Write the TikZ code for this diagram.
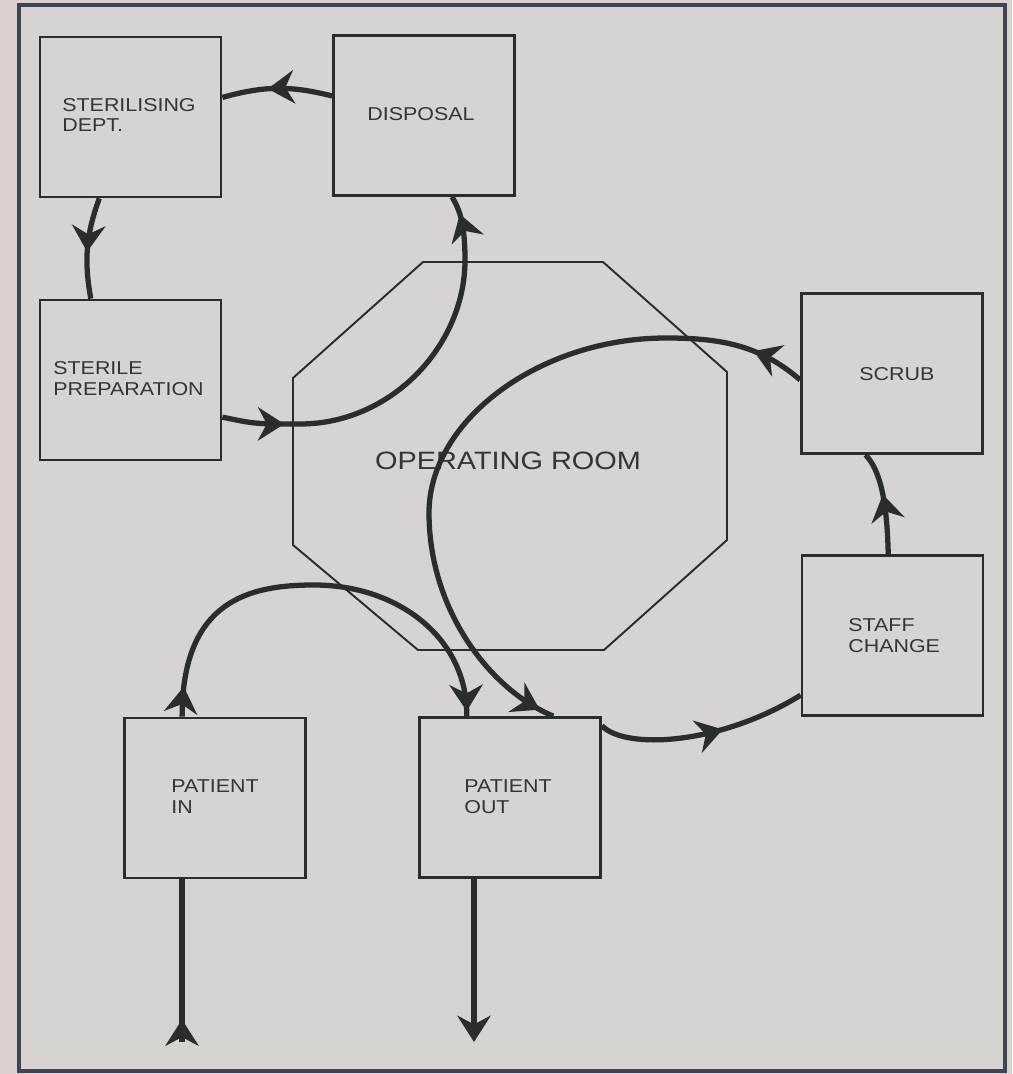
\documentclass[tikz,border=0pt]{standalone}
\usepackage{fontspec}
\newfontfamily\lblfont{Liberation Sans}[FakeStretch=1.15]
\usetikzlibrary{arrows.meta,decorations.markings}
\definecolor{bgout}{HTML}{DAD1CE}
\definecolor{bgin}{HTML}{D6D3D0}
\definecolor{framec}{HTML}{3B4659}
\definecolor{ink}{HTML}{2C2C2A}
\definecolor{txt}{HTML}{353535}
\tikzset{Hd/.tip={Stealth[length=15pt,width=19pt,inset=5pt]}}
\begin{document}
\begin{tikzpicture}[x=0.02cm,y=-0.02cm,
  box/.style={draw=ink, line width=1.6pt, minimum width=3.62cm, minimum height=3.2cm, inner sep=0pt},
  lbl/.style={font=\lblfont\fontsize{10.6}{11.8}\selectfont, text=txt, align=left, anchor=base west, inner sep=0pt},
  flow/.style={draw=ink, line width=3pt},
  arrowat/.style={postaction={decorate, decoration={markings, mark=at position #1 with {\arrow{Hd}}}}},
]
\useasboundingbox (0,0) rectangle (1012,1074);
\fill[bgout] (0,0) rectangle (1012,1074);
\fill[bgin] (19,5) rectangle (1005,1071);
\draw[framec, line width=2.8pt] (19,5) rectangle (1005,1071);

% boxes
\node[box] (sd) at (130.5,117) {};
\node[box] (disp) at (424,115.5) {};
\node[box] (sp) at (130.5,380) {};
\node[box] (scrub) at (892,373.5) {};
\node[box] (staff) at (892.5,635.5) {};
\node[box] (pin) at (215,798) {};
\node[box] (pout) at (510,797.5) {};

% operating room
\draw[ink, line width=1.1pt] (423,262) -- (603,262) -- (727,372) -- (727,540) -- (604,650) -- (418,650) -- (293,545) -- (293,378) -- cycle;
\node[font=\lblfont\fontsize{14.3}{16}\selectfont, text=txt, anchor=base, inner sep=0pt] (ort) at (508,469) {OPERATING ROOM};

% labels (anchor at baseline of last line)
\node[lbl] (sdt) at (62,132) {STERILISING\\DEPT.};
\node[lbl] (dispt) at (367,121) {DISPOSAL};
\node[lbl] (spt) at (53,395) {STERILE\\PREPARATION};
\node[lbl] (scrubt) at (859,380) {SCRUB};
\node[lbl] (stafft) at (848,652) {STAFF\\CHANGE};
\node[lbl] (pint) at (171,813) {PATIENT\\IN};
\node[lbl] (poutt) at (464,813) {PATIENT\\OUT};

% connectors
\draw[flow, arrowat=1.3cm] (disp.168) to[bend right=15] (sd.12);
\draw[flow, arrowat=1.1cm] (sd.249) to[bend right=15] (sp.116);
\draw[flow, arrowat=1.25cm, arrowat=-0.38cm] (sp.-22) .. controls (255,424) .. (300,424)
  .. controls (391,424) and (465,346) .. (465,260)
  .. controls (465,225) and (460,210) .. (disp.-71);
\draw[flow, arrowat=1.1cm, arrowat=-0.3cm] (scrub.184) .. controls (760,345) and (720,338) .. (666,338)
  .. controls (540,338) and (429,420) .. (429,513)
  .. controls (429,610) and (490,690) .. (pout.62);
\draw[flow, arrowat=2.5cm] (pout.38) .. controls (625,750) and (720,745) .. (staff.213);
\draw[flow, arrowat=1.2cm] (staff.93) .. controls (887,500) and (880,470) .. (scrub.252);
\draw[flow, arrowat=0.6cm, arrowat=-0.1cm] (pin.112) .. controls (182,600) and (250,585) .. (314,585)
  .. controls (400,585) and (468,640) .. (pout.118);
\coordinate (inb) at (182,1042);
\coordinate (outb) at (474,1042);
\draw[flow, arrowat=0.45cm] (inb) -- (inb |- pin.south);
\draw[flow, -{Hd}] (outb |- pout.south) -- (outb);
\end{tikzpicture}
\end{document}
